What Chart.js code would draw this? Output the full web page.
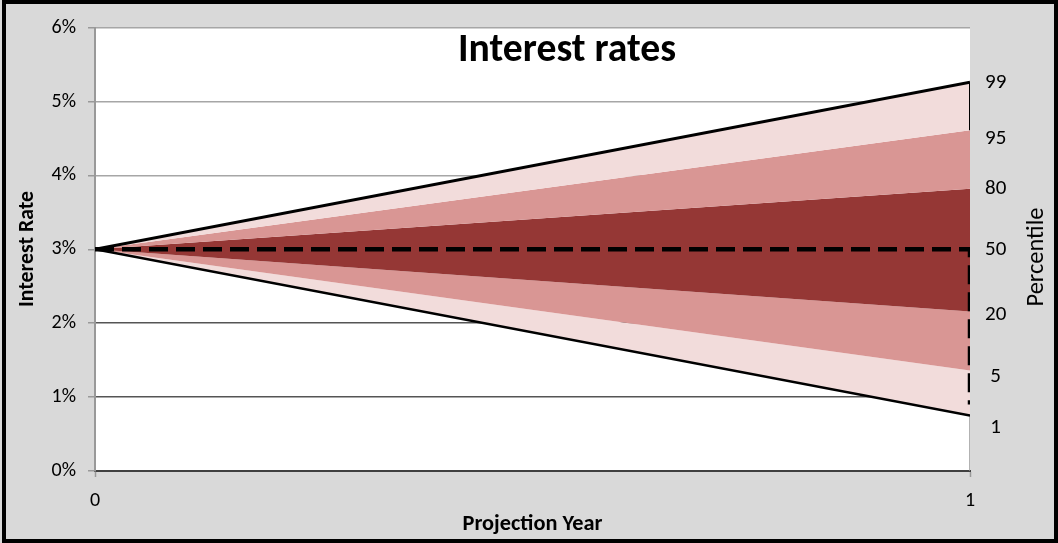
<!DOCTYPE html>
<html><head><meta charset="utf-8">
<script src="https://cdn.jsdelivr.net/npm/chart.js@4"></script>
<style>html,body{margin:0;padding:0;background:#d9d9d9;}canvas{display:block;}</style>
</head><body><canvas id="c" width="1058" height="543"></canvas>
<script>
// ---- data ----
const years = [0, 1];
const p99 = [3.0, 5.26];
const p95 = [3.0, 4.61];
const p80 = [3.0, 3.82];
const p50 = [3.0, 3.0];
const p20 = [3.0, 2.16];
const p5  = [3.0, 1.36];
const p1  = [3.0, 0.75];
const medianEdgeEnd = 0.9;           // dashed 50th line drops down the final year edge to here
const yTicks = [0, 1, 2, 3, 4, 5, 6];
const xTicks = [0, 1];
const percentileLabels = ['99', '95', '80', '50', '20', '5', '1'];
const percentileLabelAt = [5.26, 4.49, 3.82, 3.0, 2.11, 1.28, 0.59];

const FONT = 'Carlito, Lato, sans-serif';
const LIGHT = '#f2dcdb', MID = '#d99694', DARK = '#953735';
const pts = ys => years.map((x, i) => ({x, y: ys[i]}));
const last = a => a[a.length - 1];

function fitText(ctx, text, weight, width) {
  ctx.font = weight + ' 20px ' + FONT;
  const w = ctx.measureText(text).width;
  ctx.font = weight + ' ' + (20 * width / w).toFixed(2) + 'px ' + FONT;
}

const bgPlugin = {
  id: 'bg',
  beforeDraw(chart) {
    const {ctx, chartArea: a} = chart;
    ctx.save();
    ctx.fillStyle = '#d9d9d9';
    ctx.fillRect(0, 0, chart.width, chart.height);
    ctx.fillStyle = '#ffffff';
    ctx.fillRect(a.left, a.top, a.right - a.left, a.bottom - a.top);
    ctx.restore();
  },
  afterDraw(chart) {
    const {ctx, chartArea: a} = chart;
    ctx.save();
    ctx.fillStyle = '#000';
    ctx.textAlign = 'center';
    ctx.textBaseline = 'middle';
    fitText(ctx, 'Interest rates', 'bold', 218);
    ctx.fillText('Interest rates', 567, 51);
    fitText(ctx, 'Projection Year', 'bold', 140);
    ctx.fillText('Projection Year', (a.left + a.right) / 2, 524);
    ctx.save();
    ctx.translate(28, 249);
    ctx.rotate(-Math.PI / 2);
    fitText(ctx, 'Interest Rate', 'bold', 116);
    ctx.fillText('Interest Rate', 0, 0);
    ctx.restore();
    ctx.save();
    ctx.translate(1037, 257);
    ctx.rotate(-Math.PI / 2);
    fitText(ctx, 'Percentile', 'normal', 99);
    ctx.fillText('Percentile', 0, 0);
    ctx.restore();
    ctx.strokeStyle = '#000';
    ctx.lineWidth = 4;
    ctx.strokeRect(4, 2, chart.width - 6, chart.height - 4);
    ctx.restore();
  }
};

const base = {pointRadius: 0, tension: 0, borderWidth: 0};
new Chart(document.getElementById('c'), {
  type: 'line',
  data: {
    datasets: [
      {...base, data: pts(p99), fill: '+1', backgroundColor: LIGHT},
      {...base, data: pts(p95), fill: '+1', backgroundColor: MID},
      {...base, data: pts(p80), fill: '+1', backgroundColor: DARK},
      {...base, data: pts(p20), fill: '+1', backgroundColor: MID},
      {...base, data: pts(p5),  fill: '+1', backgroundColor: LIGHT},
      {...base, data: pts(p1),  fill: false, borderColor: '#000', borderWidth: 2.5},
      {...base, data: pts(p99), fill: false, borderColor: '#000', borderWidth: 3},
      {...base, data: [...pts(p50), {x: last(years), y: medianEdgeEnd}], fill: false,
        borderColor: '#000', borderWidth: 4.5, borderDash: [19, 8], borderCapStyle: 'butt'},
      {...base, data: [{x: last(years), y: last(p99)}, {x: last(years), y: last(p95)}], fill: false,
        borderColor: '#000', borderWidth: 2},
      {...base, data: [{x: last(years), y: 0}, {x: last(years), y: last(p1)}], fill: false,
        borderColor: '#999', borderWidth: 1.5}
    ]
  },
  options: {
    responsive: false,
    animation: false,
    devicePixelRatio: 1,
    layout: {padding: {top: 25, left: 0, right: 0, bottom: 0}},
    plugins: {legend: {display: false}, tooltip: {enabled: false}, title: {display: false},
      filler: {drawTime: 'beforeDatasetsDraw'}},
    scales: {
      x: {
        type: 'linear', min: 0, max: 1,
        afterBuildTicks: s => { s.ticks = xTicks.map(v => ({value: v})); },
        afterFit: s => { s.height = 72; },
        grid: {drawOnChartArea: false, drawTicks: true, tickLength: 6, tickColor: '#999', tickWidth: 1.5},
        border: {color: '#404040', width: 2},
        ticks: {padding: 12, color: '#000', font: {family: FONT, size: 20}, maxRotation: 0}
      },
      y: {
        type: 'linear', min: 0, max: 6, position: 'left',
        afterBuildTicks: s => { s.ticks = yTicks.map(v => ({value: v})); },
        afterFit: s => { s.width = 95; },
        grid: {color: c => (c.tick && c.tick.value <= 2 ? '#555' : '#a6a6a6'), lineWidth: 1.5,
          tickLength: 7, tickColor: '#999', tickWidth: 1.5},
        border: {color: '#999', width: 2},
        ticks: {padding: 12, color: '#000', font: {family: FONT, size: 20}, callback: v => v + '%'}
      },
      y2: {
        type: 'linear', min: 0, max: 6, position: 'right',
        afterBuildTicks: s => { s.ticks = percentileLabelAt.map(v => ({value: v})); },
        afterFit: s => { s.width = 88; },
        grid: {display: false, drawTicks: false},
        border: {display: false},
        ticks: {padding: 15, crossAlign: 'center', color: '#000', font: {family: FONT, size: 21},
          callback: (v, i) => percentileLabels[i]}
      }
    }
  },
  plugins: [bgPlugin]
});
</script>
</body></html>
